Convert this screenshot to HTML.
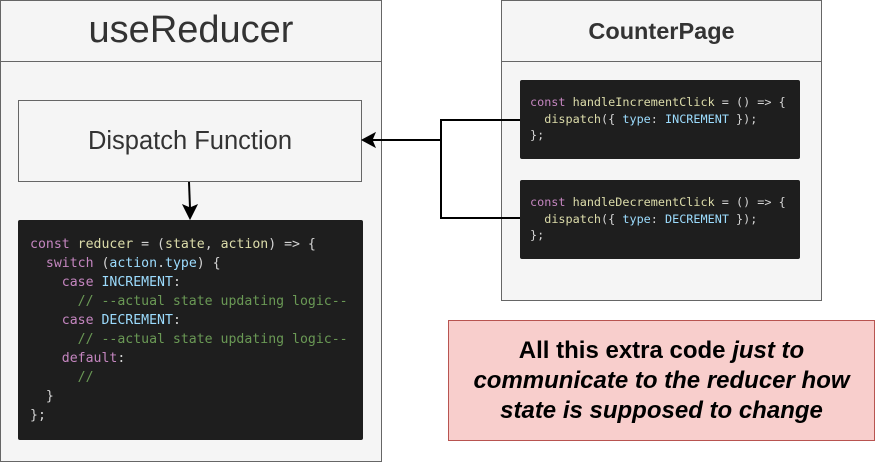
<!DOCTYPE html>
<html><head><style>
body{margin:0;width:876px;height:462px;background:#fff;position:relative;font-family:"Liberation Sans",sans-serif;overflow:hidden}
.a{position:absolute;box-sizing:border-box}
.code{background:#1e1e1e;border-radius:2px;font-family:"DejaVu Sans Mono","Liberation Mono",monospace;color:#d4d4d4;white-space:pre}
.k{color:#c586c0}.f{color:#dcdcaa}.v{color:#9cdcfe}.c{color:#6a9955}
</style></head><body>
<div class="a" style="left:0;top:0;width:382px;height:462px;border:1px solid #666;background:#f5f5f5"></div>
<div class="a" style="left:0;top:0;width:382px;height:62px;border:1px solid #666;background:#f5f5f5;font-size:38px;color:#333;text-align:center;line-height:58px">useReducer</div>
<div class="a" style="left:18px;top:100px;width:344px;height:82px;border:1px solid #666;background:#f5f5f5;font-size:25.5px;color:#333;text-align:center;line-height:80px">Dispatch Function</div>
<div class="a code" style="left:18px;top:220px;width:345px;height:220px;padding:15px 0 0 12px;font-size:13.2px;line-height:19px"><span class="k">const</span> <span class="f">reducer</span> = (<span class="f">state</span>, <span class="f">action</span>) =&gt; {
  <span class="k">switch</span> (<span class="v">action</span>.<span class="v">type</span>) {
    <span class="k">case</span> <span class="v">INCREMENT</span>:
      <span class="c">// --actual state updating logic--</span>
    <span class="k">case</span> <span class="v">DECREMENT</span>:
      <span class="c">// --actual state updating logic--</span>
    <span class="k">default</span>:
      <span class="c">//</span>
  }
};</div>
<div class="a" style="left:501px;top:0;width:321px;height:301px;border:1px solid #666;background:#f5f5f5"></div>
<div class="a" style="left:501px;top:0;width:321px;height:62px;border:1px solid #666;background:#f5f5f5;font-size:23.5px;font-weight:bold;color:#333;text-align:center;line-height:60px">CounterPage</div>
<div class="a code" style="left:520px;top:80px;width:280px;height:79px;padding:14px 0 0 10px;font-size:11.8px;line-height:16.5px"><span class="k">const</span> <span class="f">handleIncrementClick</span> = () =&gt; {
  <span class="f">dispatch</span>({ <span class="v">type</span>: <span class="v">INCREMENT</span> });
};</div>
<div class="a code" style="left:520px;top:180px;width:280px;height:79px;padding:14px 0 0 10px;font-size:11.8px;line-height:16.5px"><span class="k">const</span> <span class="f">handleDecrementClick</span> = () =&gt; {
  <span class="f">dispatch</span>({ <span class="v">type</span>: <span class="v">DECREMENT</span> });
};</div>
<div class="a" style="left:448px;top:320px;width:427px;height:121px;border:1px solid #b85450;background:#f8cecc;font-size:24px;font-weight:bold;color:#000;text-align:center;line-height:30px;padding-top:15px">All this extra code <i>just to<br>communicate to the reducer how<br>state is supposed to change</i></div>
<svg class="a" style="left:0;top:0" width="876" height="462">
<path d="M520 120H441V218H520M441 140H372" stroke="#000" stroke-width="2" fill="none"/>
<path d="M362 140L375 133L372 140L375 147Z" fill="#000" stroke="#000"/>
<path d="M189 182L190 208" stroke="#000" stroke-width="2"/>
<path d="M190 219L183 205L190 208L197 205Z" fill="#000" stroke="#000"/>
</svg>
</body></html>
